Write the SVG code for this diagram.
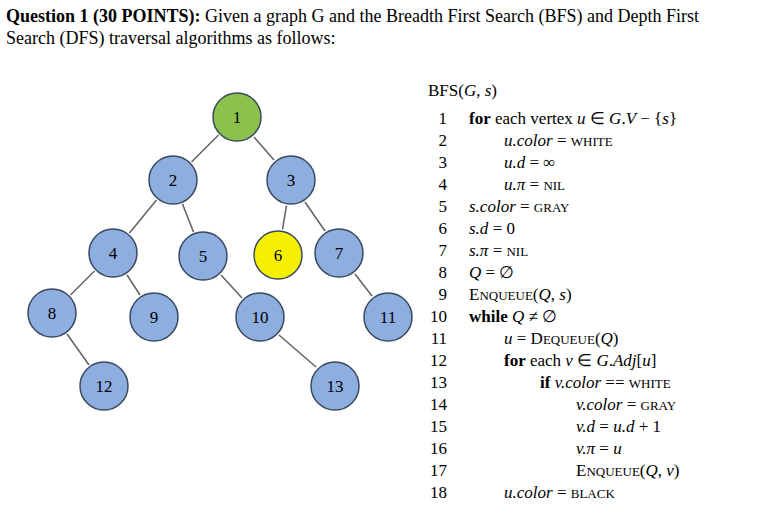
<svg xmlns="http://www.w3.org/2000/svg" width="782" height="524" viewBox="0 0 782 524">
<style>
text{font-family:"Liberation Serif","Times New Roman",serif;fill:#000}
.h{font-size:18px}
.c{font-size:17px}
.n{text-anchor:end}
.i{font-style:italic}
.sc{font-size:13px}
.b{font-weight:bold}
circle{stroke:#3a4a5e;stroke-width:1.5;fill:#8eaee0}
.lbl{font-size:17px;text-anchor:middle}
#conn line{stroke:#666;stroke-width:1.6}
</style>
<rect width="782" height="524" fill="#fff"/>
<text class="h" x="6" y="22"><tspan class="b">Question 1 (30 POINTS):</tspan> Given a graph G and the Breadth First Search (BFS) and Depth First</text>
<text class="h" x="6" y="44">Search (DFS) traversal algorithms as follows:</text>
<g id="conn">
<line x1="218.5" y1="135" x2="191.5" y2="162"/>
<line x1="254" y1="137" x2="274" y2="160"/>
<line x1="156.5" y1="200" x2="129.5" y2="233"/>
<line x1="182.5" y1="204" x2="193.5" y2="232"/>
<line x1="286.5" y1="205.6" x2="282.5" y2="229.4"/>
<line x1="305" y1="202" x2="325" y2="231"/>
<line x1="94.5" y1="271" x2="70.5" y2="295"/>
<line x1="127" y1="275" x2="140" y2="295"/>
<line x1="221" y1="275" x2="242" y2="298"/>
<line x1="355" y1="274" x2="372" y2="296"/>
<line x1="67" y1="334" x2="89" y2="365"/>
<line x1="279" y1="335" x2="316" y2="367"/>
</g>
<g id="n1"><circle cx="237" cy="117" r="24" style="fill:#8cc14c"/><text class="lbl" x="237" y="123">1</text></g>
<g id="n2"><circle cx="173" cy="180" r="24"/><text class="lbl" x="173" y="186">2</text></g>
<g id="n3"><circle cx="291" cy="180" r="24"/><text class="lbl" x="291" y="186">3</text></g>
<g id="n4"><circle cx="113" cy="253" r="24"/><text class="lbl" x="113" y="259">4</text></g>
<g id="n5"><circle cx="203" cy="256" r="24"/><text class="lbl" x="203" y="262">5</text></g>
<g id="n6"><circle cx="278" cy="255" r="24" style="fill:#f5f000"/><text class="lbl" x="278" y="261">6</text></g>
<g id="n7"><circle cx="339" cy="253" r="24"/><text class="lbl" x="339" y="259">7</text></g>
<g id="n8"><circle cx="52" cy="313" r="24"/><text class="lbl" x="52" y="319">8</text></g>
<g id="n9"><circle cx="154" cy="317" r="24"/><text class="lbl" x="154" y="323">9</text></g>
<g id="n10"><circle cx="260" cy="317" r="24"/><text class="lbl" x="260" y="323">10</text></g>
<g id="n11"><circle cx="388" cy="317" r="24"/><text class="lbl" x="388" y="323">11</text></g>
<g id="n12"><circle cx="104" cy="386" r="24"/><text class="lbl" x="104" y="392">12</text></g>
<g id="n13"><circle cx="335" cy="386" r="24"/><text class="lbl" x="335" y="392">13</text></g>
<g id="code" class="c">
<text x="428" y="96">BFS(<tspan class="i">G</tspan>, <tspan class="i">s</tspan>)</text>
<g class="n">
<text x="447" y="124">1</text><text x="447" y="146">2</text><text x="447" y="168">3</text><text x="447" y="190">4</text><text x="447" y="212">5</text><text x="447" y="234">6</text><text x="447" y="256">7</text><text x="447" y="278">8</text><text x="447" y="300">9</text><text x="447" y="322">10</text><text x="447" y="344">11</text><text x="447" y="366">12</text><text x="447" y="388">13</text><text x="447" y="410">14</text><text x="447" y="432">15</text><text x="447" y="454">16</text><text x="447" y="476">17</text><text x="447" y="498">18</text>
</g>
<text x="469" y="124"><tspan class="b">for</tspan> each vertex <tspan class="i">u</tspan> ∈ <tspan class="i">G</tspan>.<tspan class="i">V</tspan> − {<tspan class="i">s</tspan>}</text>
<text x="504" y="146"><tspan class="i">u.color</tspan> = <tspan class="sc">WHITE</tspan></text>
<text x="504" y="168"><tspan class="i">u.d</tspan> = ∞</text>
<text x="504" y="190"><tspan class="i">u.π</tspan> = <tspan class="sc">NIL</tspan></text>
<text x="469" y="212"><tspan class="i">s.color</tspan> = <tspan class="sc">GRAY</tspan></text>
<text x="469" y="234"><tspan class="i">s.d</tspan> = 0</text>
<text x="469" y="256"><tspan class="i">s.π</tspan> = <tspan class="sc">NIL</tspan></text>
<text x="469" y="278"><tspan class="i">Q</tspan> = ∅</text>
<text x="469" y="300">E<tspan class="sc">NQUEUE</tspan>(<tspan class="i">Q</tspan>, <tspan class="i">s</tspan>)</text>
<text x="469" y="322"><tspan class="b">while</tspan> <tspan class="i">Q</tspan> ≠ ∅</text>
<text x="504" y="344"><tspan class="i">u</tspan> = D<tspan class="sc">EQUEUE</tspan>(<tspan class="i">Q</tspan>)</text>
<text x="504" y="366"><tspan class="b">for</tspan> each <tspan class="i">v</tspan> ∈ <tspan class="i">G</tspan>.<tspan class="i">Adj</tspan>[<tspan class="i">u</tspan>]</text>
<text x="540" y="388"><tspan class="b">if</tspan> <tspan class="i">v.color</tspan> == <tspan class="sc">WHITE</tspan></text>
<text x="576" y="410"><tspan class="i">v.color</tspan> = <tspan class="sc">GRAY</tspan></text>
<text x="576" y="432"><tspan class="i">v.d</tspan> = <tspan class="i">u.d</tspan> + 1</text>
<text x="576" y="454"><tspan class="i">v.π</tspan> = <tspan class="i">u</tspan></text>
<text x="576" y="476">E<tspan class="sc">NQUEUE</tspan>(<tspan class="i">Q</tspan>, <tspan class="i">v</tspan>)</text>
<text x="504" y="498"><tspan class="i">u.color</tspan> = <tspan class="sc">BLACK</tspan></text>
</g>
</svg>
